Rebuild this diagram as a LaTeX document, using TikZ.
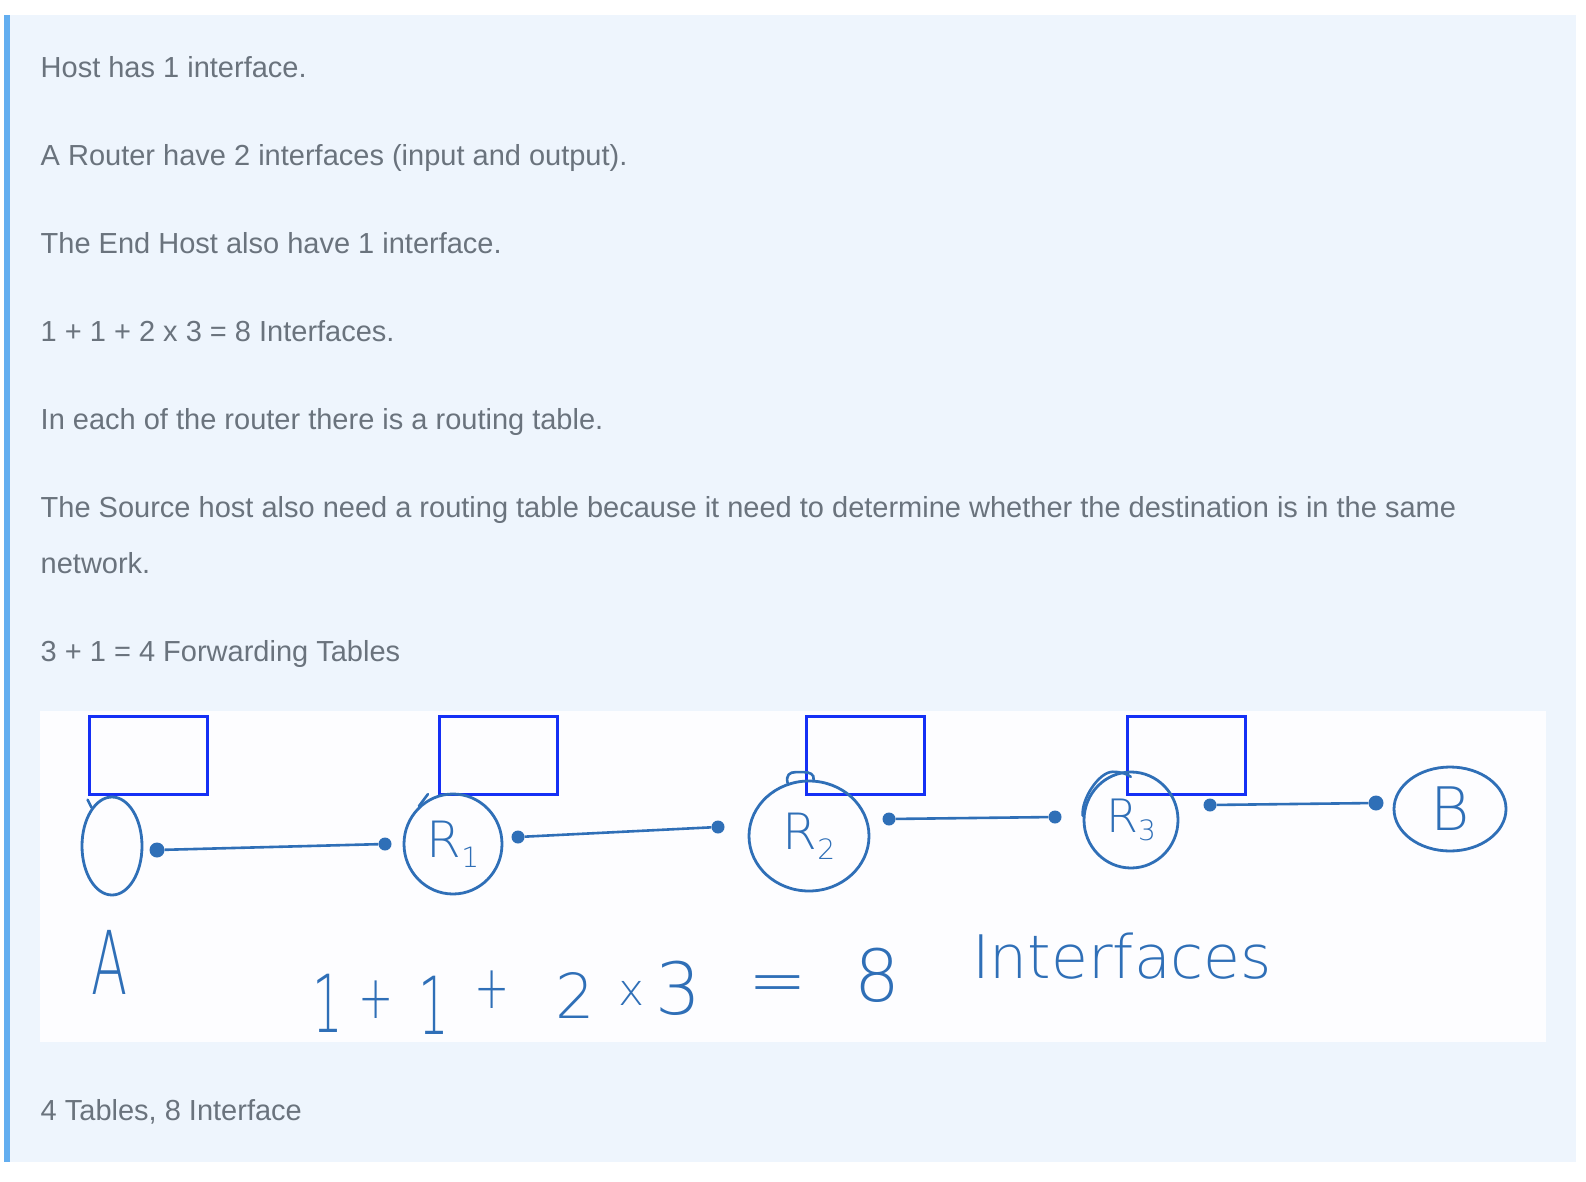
\documentclass[tikz,border=0pt]{standalone}
\usepackage{fontspec}
\setmainfont{Liberation Sans}
\newfontfamily\hand{DejaVu Sans ExtraLight}
\usetikzlibrary{shapes.geometric}
\definecolor{panelbg}{HTML}{EEF5FD}
\definecolor{barblue}{HTML}{63AEF0}
\definecolor{txtgrey}{HTML}{6A737D}
\definecolor{ink}{HTML}{2F6FB7}
\definecolor{tblue}{HTML}{1530F5}
\definecolor{board}{HTML}{FDFDFF}
\newcommand\hsub[1]{\raisebox{-0.35ex}{\fontsize{28}{28}\selectfont #1}}
\begin{document}
\begin{tikzpicture}[x=1pt,y=-1pt,
  para/.style={anchor=base west, inner sep=0pt, text=txtgrey, font=\fontsize{29}{34}\selectfont},
  tbl/.style={draw=tblue, line width=3pt, minimum width=118, minimum height=78, inner sep=0pt},
  hostnode/.style={draw=ink, line width=2.8pt, ellipse, inner sep=0pt, text=ink},
  handline/.style={draw=ink, line width=2.6pt, line cap=round},
  wire/.style={draw=ink, line width=2.6pt},
  ifdot/.style={circle, fill=ink, inner sep=0pt, minimum size=13pt},
  handtext/.style={text=ink, inner sep=0pt, font=\hand\fontsize{#1}{#1}\selectfont}
]
\useasboundingbox (0,0) rectangle (1586,1182);
\fill[white] (0,0) rectangle (1586,1182);
\fill[panelbg] (4,15) rectangle (1576,1162);
\fill[barblue] (4,15) rectangle (10,1162);

\node[para] (t1) at (40.5,77.3) {Host has 1 interface.};
\node[para] (t2) at (40.5,165.3) {A Router have 2 interfaces (input and output).};
\node[para] (t3) at (40.5,253.3) {The End Host also have 1 interface.};
\node[para] (t4) at (40.5,341.3) {1 + 1 + 2 x 3 = 8 Interfaces.};
\node[para] (t5) at (40.5,429.3) {In each of the router there is a routing table.};
\node[para] (t6) at (40.5,517.3) {The Source host also need a routing table because it need to determine whether the destination is in the same};
\node[para] (t6b) at (40.5,573) {network.};
\node[para] (t7) at (40.5,661) {3 + 1 = 4 Forwarding Tables};
\node[para] (t8) at (40.5,1120) {4 Tables, 8 Interface};

% whiteboard
\fill[board] (40,711) rectangle (1546,1042);

% forwarding tables
\node[tbl] (T1) at (148.5,755) {};
\node[tbl] (T2) at (498,755) {};
\node[tbl] (T3) at (865.5,755) {};
\node[tbl] (T4) at (1186.5,755) {};

% hosts and routers
\node[hostnode, minimum width=60, minimum height=98] (A) at (112,846) {};
\node[hostnode, minimum width=98, minimum height=100] (R1) at (453,844) {\hand\fontsize{50}{50}\selectfont R\hsub{1}};
\node[hostnode, minimum width=120, minimum height=110] (R2) at (809,836) {\hand\fontsize{50}{50}\selectfont R\hsub{2}};
\node[hostnode, minimum width=94, minimum height=96] (R3) at (1131,820) {\hand\fontsize{46}{46}\selectfont R\hsub{3}};
\node[hostnode, minimum width=112, minimum height=84] (B) at (1450,809) {\hand\fontsize{60}{60}\selectfont B};

% pen marks on the outlines
\draw[handline] (A.118) -- ++(-4,-8);
\draw[handline] (R1.132) -- ++(9,-12);
\draw[handline] (R2.112) .. controls +(-2,-8) and +(-6,0) .. ++(8,-11) -- ++(8,0) .. controls +(6,0) and +(1,-6) .. ++(10,8);
\draw[handline] (R3.175) .. controls +(-2,-16) and +(-14,0) .. ++(30,-44) .. controls +(8,0) and +(-4,-3) .. ++(18,5);

% interfaces and links
\node[ifdot, minimum size=15pt] (pA) at (157,850) {};
\node[ifdot] (pR1w) at (385,844) {};
\node[ifdot] (pR1e) at (518,837) {};
\node[ifdot] (pR2w) at (718,827) {};
\node[ifdot] (pR2e) at (889,819) {};
\node[ifdot] (pR3w) at (1055,817) {};
\node[ifdot] (pR3e) at (1210,805) {};
\node[ifdot, minimum size=15pt] (pB) at (1376,803) {};
\draw[wire] (pA) -- (pR1w);
\draw[wire] (pR1e) -- (pR2w);
\draw[wire] (pR2e) -- (pR3w);
\draw[wire] (pR3e) -- (pB);

% handwritten labels
\node[handtext=88] (lA) at (110,962) {\scalebox{0.6}[1]{A}};
\node[handtext=80] (f1) at (328,1003) {\scalebox{0.6}[1]{1}};
\node[handtext=60] (f2) at (376,1000) {\scalebox{0.7}[1]{+}};
\node[handtext=80] (f3) at (434,1005) {\scalebox{0.6}[1]{1}};
\node[handtext=60] (f4) at (492,990) {\scalebox{0.7}[1]{+}};
\node[handtext=62] (f5) at (575,995) {2};
\node[handtext=44] (f6) at (632,993) {x};
\node[handtext=72] (f7) at (678,988) {3};
\node[handtext=70] (f8) at (778,990) {=};
\node[handtext=72] (f9) at (877,975) {8};
\node[handtext=60] (f10) at (1122,956) {Interfaces};
\end{tikzpicture}
\end{document}
